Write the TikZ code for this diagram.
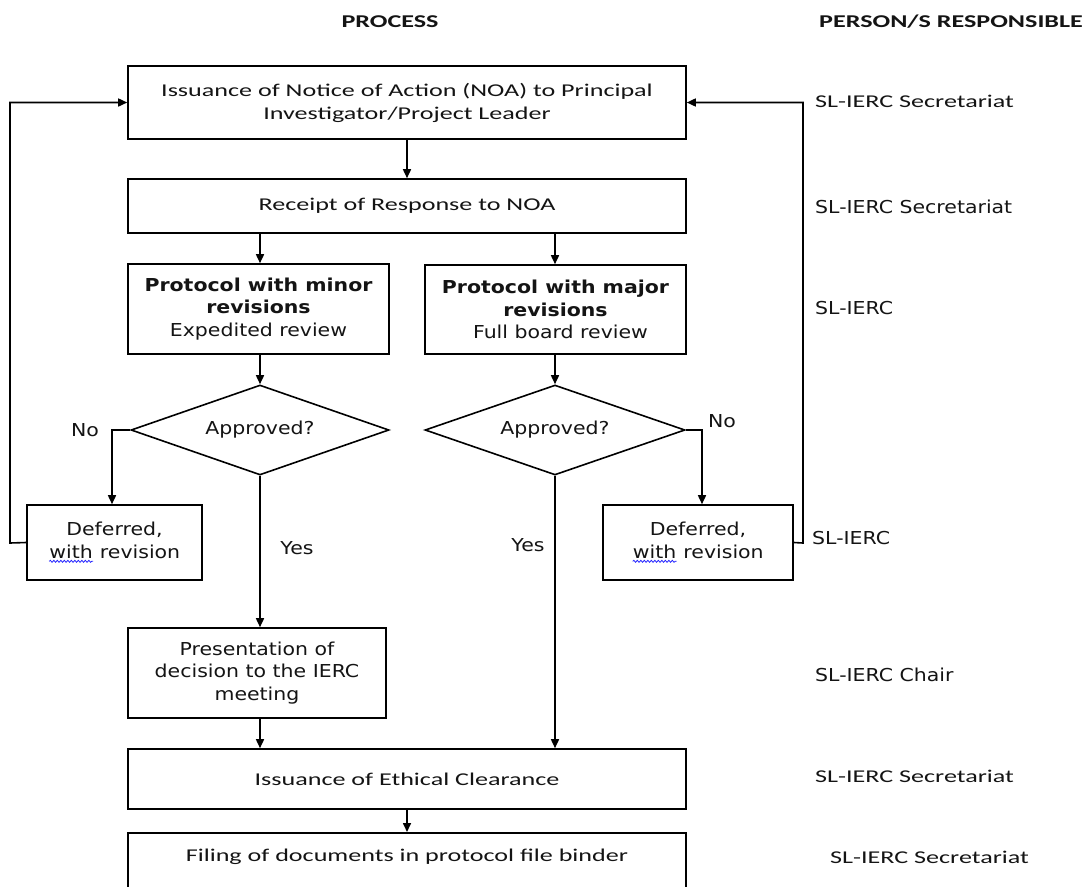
\documentclass[tikz,border=0pt]{standalone}
\usepackage{fontspec}
\usetikzlibrary{arrows.meta,shapes.geometric,decorations.pathmorphing}
\newfontfamily\calfont[FakeStretch=1.45]{Carlito}
\newfontfamily\verfont[FakeStretch=1.15]{DejaVu Sans}
% spell-check style wavy underline
\newcommand\wavyword[1]{\tikz[baseline=(ww.base)]{\node[inner sep=0pt,draw=none,minimum size=0pt] (ww) {#1};
  \draw[blue!85,line width=0.8pt,decorate,decoration={snake,amplitude=1pt,segment length=3.5pt}]
    ([yshift=-3pt]ww.base west) -- ([yshift=-3pt]ww.base east);}}
\tikzset{
  cal/.style={font=\calfont\fontsize{18pt}{23pt}\selectfont, text=black!92},
  calb/.style={font=\calfont\bfseries\fontsize{18pt}{23pt}\selectfont, text=black!92},
  ver/.style={font=\verfont\fontsize{17.8pt}{22.5pt}\selectfont, text=black!92},
  box/.style={draw, line width=1.6pt, align=center, inner sep=0pt},
  dia/.style={draw, line width=1.6pt, diamond, shape aspect=2.9, inner sep=0pt, align=center},
  arr/.style={line width=1.6pt, -{Triangle[length=9pt,width=8pt]}},
  resp/.style={anchor=west, inner sep=0pt},
}
\begin{document}
\begin{tikzpicture}[x=1pt,y=-1pt]
\useasboundingbox (0,0) rectangle (1088,887);
\clip (0,0) rectangle (1088,887);
\fill[white] (0,0) rectangle (1088,887);

% column headings
\node[calb] (hproc) at (390,22) {PROCESS};
\node[calb] (hpers) at (951,22) {PERSON/S RESPONSIBLE};

% process boxes
\node[box,cal,minimum width=558pt,minimum height=73pt] (noa) at (407,102.5)
  {Issuance of Notice of Action (NOA) to Principal\\Investigator/Project Leader};
\node[box,cal,minimum width=558pt,minimum height=54pt] (rcpt) at (407,206)
  {Receipt of Response to NOA};
\node[box,ver,minimum width=261pt,minimum height=90pt] (minor) at (258.5,309)
  {\textbf{Protocol with minor}\\\textbf{revisions}\\Expedited review};
\node[box,ver,minimum width=261pt,minimum height=89pt] (major) at (555.5,309.5)
  {\textbf{Protocol with major}\\\textbf{revisions}\\\hspace*{10pt}Full board review};
\node[dia,ver,minimum width=258pt,minimum height=90pt] (d1) at (260,430) {Approved?};
\node[dia,ver,minimum width=260pt,minimum height=90pt] (d2) at (555,430) {Approved?};
\node[box,ver,minimum width=175pt,minimum height=75pt] (defl) at (114.5,542.5)
  {Deferred,\\\wavyword{with} revision};
\node[box,ver,minimum width=190pt,minimum height=75pt] (defr) at (698,542.5)
  {Deferred,\\\wavyword{with} revision};
\node[box,ver,minimum width=258pt,minimum height=90pt] (pres) at (257,673)
  {Presentation of\\decision to the IERC\\meeting};
\node[box,cal,minimum width=558pt,minimum height=60pt] (eth) at (407,779)
  {Issuance of Ethical Clearance};
\node[box,minimum width=558pt,minimum height=110pt,anchor=north] (fil) at (407,832) {};
\node[cal] (filtxt) at (407,857) {Filing of documents in protocol file binder};

% decision labels
\node[ver] (nol) at (85,430) {No};
\node[ver] (nor) at (722,421) {No};
\node[ver] (yesl) at (297,548) {Yes};
\node[ver] (yesr) at (528,545) {Yes};

% responsible persons
\node[cal,resp] (r1) at (815,101) {SL-IERC Secretariat};
\node[ver,resp] (r2) at (815,207) {SL-IERC Secretariat};
\node[ver,resp] (r3) at (815,308) {SL-IERC};
\node[ver,resp] (r4) at (812,538) {SL-IERC};
\node[ver,resp] (r5) at (815,675) {SL-IERC Chair};
\node[cal,resp] (r6) at (815,776) {SL-IERC Secretariat};
\node[cal,resp] (r7) at (830,857) {SL-IERC Secretariat};

% return paths
\coordinate (lret) at (10,543);
\coordinate (rret) at (803,543);

% connectors
\draw[arr] (noa.south) -- (rcpt.north);
\draw[arr] (d1.north |- rcpt.south) -- (d1.north |- minor.north);
\draw[arr] (d2.north |- rcpt.south) -- (d2.north |- major.north);
\draw[arr] (d1.north |- minor.south) -- (d1.north);
\draw[arr] (d2.north |- major.south) -- (d2.north);
\draw[arr] (d1.west) -| ([xshift=-2.5pt]defl.north);
\draw[arr] (d2.east) -| ([xshift=4pt]defr.north);
\draw[arr] (d1.south) -- (d1.south |- pres.north);
\draw[arr] (d2.south) -- (d2.south |- eth.north);
\draw[arr] (d1.south |- pres.south) -- (d1.south |- eth.north);
\draw[arr] (eth.south) -- (fil.north);
\draw[arr] (defl.west) -- (lret) |- (noa.west);
\draw[arr] (defr.east) -- (rret) |- (noa.east);
\end{tikzpicture}
\end{document}
